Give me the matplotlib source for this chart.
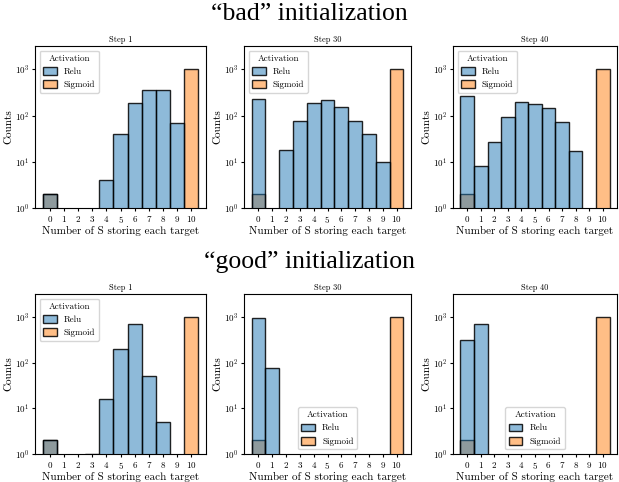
import numpy as np
import matplotlib
matplotlib.use('Agg')
import matplotlib.pyplot as plt
from matplotlib.patches import Patch
from matplotlib.colors import to_rgba

plt.rcParams['font.family'] = ['cmr10', 'DejaVu Serif']
plt.rcParams['mathtext.fontset'] = 'cm'
plt.rcParams['axes.unicode_minus'] = False
plt.rcParams['axes.formatter.use_mathtext'] = True

bins = np.arange(11)
steps = ['Step 1', 'Step 30', 'Step 40']

# sigmoid is the same in every panel
sigmoid = [2, 0, 0, 0, 0, 0, 0, 0, 0, 0, 1000]

relu_bad = [
    [2, 0, 0, 0, 4, 40, 190, 350, 350, 70, 0],
    [230, 0, 18, 75, 190, 220, 150, 78, 40, 10, 0],
    [270, 8, 27, 95, 200, 180, 145, 72, 17, 0, 0],
]
relu_good = [
    [2, 0, 0, 1, 16, 200, 720, 50, 5, 0, 0],
    [930, 75, 0, 0, 0, 0, 0, 0, 0, 0, 0],
    [310, 690, 0, 0, 0, 0, 0, 0, 0, 0, 0],
]

BLUE = to_rgba('#1f77b4', 0.5)
ORANGE = to_rgba('#ff7f0e', 0.5)
EDGE = (0, 0, 0, 0.85)

fig = plt.figure(figsize=(6.19, 4.82), dpi=100)
W, H = 619., 482.

lefts = [35, 244, 453]
widths = [171, 167, 164]
rows = [(46, 208, relu_bad), (294, 454, relu_good)]


def draw(ax, relu, title, legend_loc):
    # sigmoid first so relu sits on top (grey where they overlap)
    for vals, c in [(sigmoid, ORANGE), (relu, BLUE)]:
        v = np.array(vals, dtype=float)
        m = v > 0
        ax.bar(bins[m], v[m], width=1.0, bottom=0.0, facecolor=c,
               edgecolor=EDGE, linewidth=1.0)
    ax.set_yscale('log')
    ax.set_ylim(1, 3200)
    ax.set_xlim(-1.05, 11.05)
    ax.set_xticks(bins)
    ax.tick_params(labelsize=6.5, length=2.5, pad=1.5)
    ax.minorticks_off()
    ax.set_title(title, fontsize=6, pad=3)
    ax.set_xlabel('Number of S storing each target', fontsize=8, labelpad=1)
    ax.set_ylabel('Counts', fontsize=8, labelpad=1)
    handles = [Patch(facecolor=BLUE, edgecolor=EDGE),
               Patch(facecolor=ORANGE, edgecolor=EDGE)]
    ax.legend(handles, ['Relu', 'Sigmoid'], title='Activation', loc=legend_loc,
              fontsize=6.5, title_fontsize=6.5, handlelength=1.5, handleheight=0.9)


for r, (top, bottom, data) in enumerate(rows):
    for i in range(3):
        ax = fig.add_axes([lefts[i] / W, 1 - bottom / H, widths[i] / W, (bottom - top) / H])
        loc = 'upper left'
        if r == 1 and i > 0:
            loc = 'lower center'
        draw(ax, data[i], steps[i], loc)

fig.text(0.5, 1 - 14 / H, '\u201cbad\u201d initialization', ha='center', va='center',
         fontsize=18.5, family=['Liberation Serif'])
fig.text(0.5, 1 - 262 / H, '\u201cgood\u201d initialization', ha='center', va='center',
         fontsize=18.5, family=['Liberation Serif'])

fig.savefig('out.png', dpi=100)
